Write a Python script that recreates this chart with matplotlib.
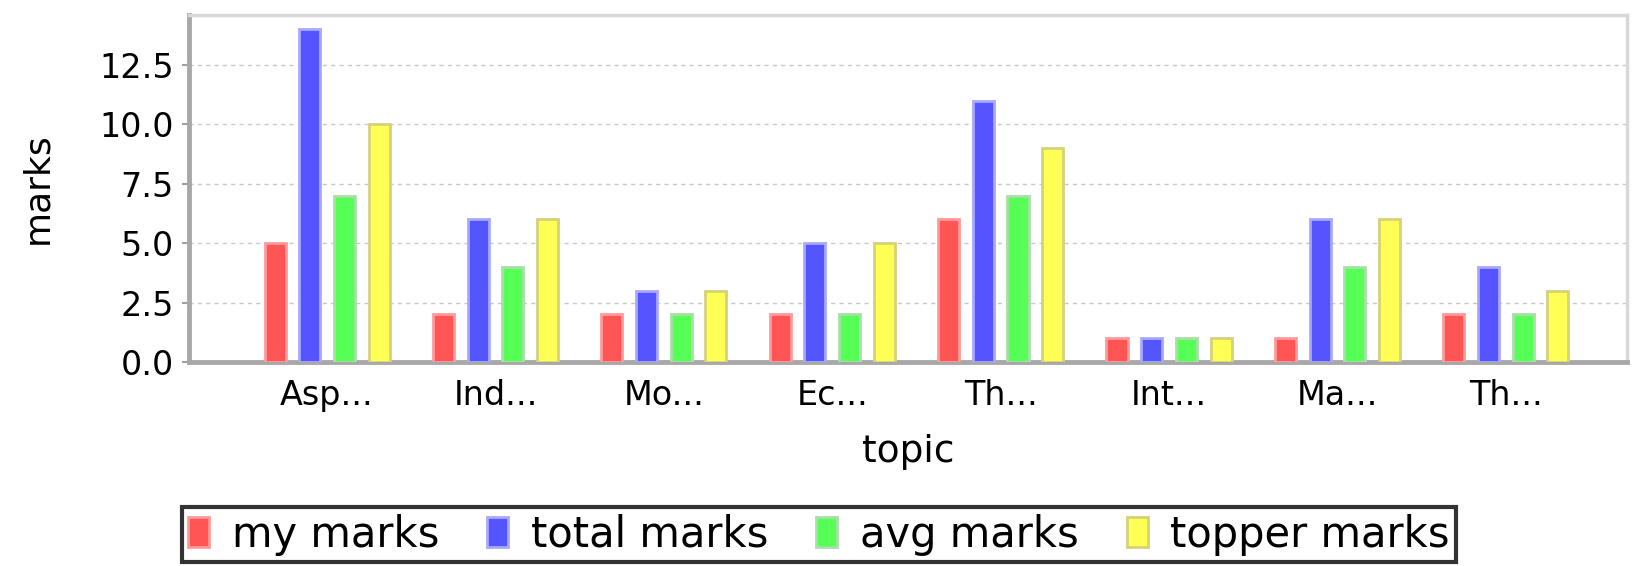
import matplotlib.pyplot as plt
import numpy as np

topics = ['Asp...', 'Ind...', 'Mo...', 'Ec...', 'Th...', 'Int...', 'Ma...', 'Th...']
my_marks = [5, 2, 2, 2, 6, 1, 1, 2]
total_marks = [14, 6, 3, 5, 11, 1, 6, 4]
avg_marks = [7, 4, 2, 2, 7, 1, 4, 2]
topper_marks = [10, 6, 3, 5, 9, 1, 6, 3]

series = [
    ('my marks', my_marks, '#ff5555', '#ff9a9a'),
    ('total marks', total_marks, '#5555ff', '#a8a8ff'),
    ('avg marks', avg_marks, '#55ff55', '#a6e0a6'),
    ('topper marks', topper_marks, '#ffff55', '#d6d27a'),
]

fig = plt.figure(figsize=(16.48, 5.66), dpi=100)
ax = fig.add_axes([0.1147, 0.3604, 0.8726, 0.613])

x = np.arange(len(topics))
width = 0.125
step = 0.206
for i, (name, vals, color, edge) in enumerate(series):
    ax.bar(x + (i - 1.5) * step, vals, width=width, color=color,
           edgecolor=edge, linewidth=2, label=name, zorder=3)

ax.set_xlim(-0.82, 7.72)
ax.set_ylim(0, 14.6)
ax.set_yticks([0, 2.5, 5, 7.5, 10, 12.5])
ax.set_yticklabels(['0.0', '2.5', '5.0', '7.5', '10.0', '12.5'], fontsize=24)
ax.set_xticks(x)
ax.set_xticklabels(topics, fontsize=24)
ax.tick_params(axis='x', length=0, pad=12)
ax.tick_params(axis='y', length=5, width=1.5, color='#a0a0a0', pad=6)

ax.set_xlabel('topic', fontsize=27, labelpad=16)
ax.set_ylabel('marks', fontsize=26, labelpad=32)

ax.grid(axis='y', color='#c8c8c8', linestyle=(0, (3, 3)), linewidth=1, zorder=0)
for s in ['left', 'bottom']:
    ax.spines[s].set_color('#a8a8a8')
    ax.spines[s].set_linewidth(3.5)
for s in ['top', 'right']:
    ax.spines[s].set_color('#d8d8d8')
    ax.spines[s].set_linewidth(2.5)

leg = fig.legend(loc='lower center', bbox_to_anchor=(0.497, 0.0), ncol=4,
                 fontsize=30, frameon=True, fancybox=False, edgecolor='black',
                 handlelength=0.5, handleheight=0.75, handletextpad=0.55,
                 columnspacing=1.15, borderpad=0.15, borderaxespad=0.1)
leg.get_frame().set_linewidth(3)

plt.savefig('out.png', dpi=100, facecolor='white')
plt.close()
